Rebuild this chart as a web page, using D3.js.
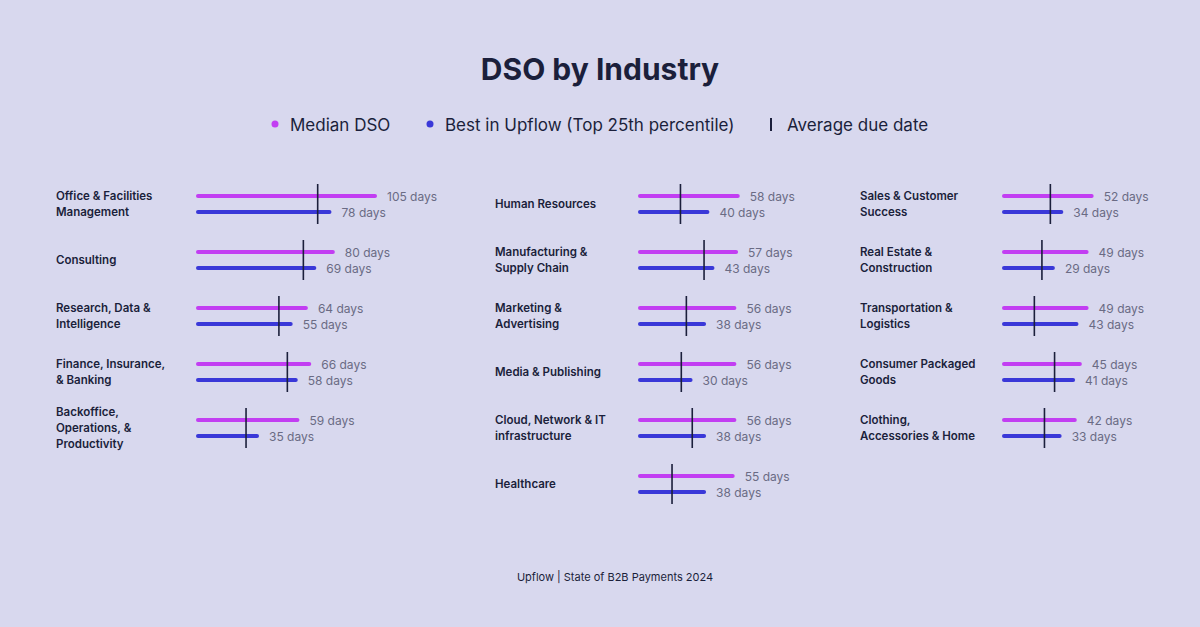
<!DOCTYPE html>
<html><head><meta charset="utf-8">
<script src="https://cdn.jsdelivr.net/npm/d3@7"></script>
<style>body{margin:0;background:#d8d8ee;font-family:Inter,"Noto Sans",sans-serif}</style>
</head><body><svg id="chart" width="1200" height="627"></svg>
<script>
// industries, one list per column
var col1 = ["Office & Facilities|Management","Consulting","Research, Data &|Intelligence","Finance, Insurance,|& Banking","Backoffice,|Operations, &|Productivity"];
var col2 = ["Human Resources","Manufacturing &|Supply Chain","Marketing &|Advertising","Media & Publishing","Cloud, Network & IT|infrastructure","Healthcare"];
var col3 = ["Sales & Customer|Success","Real Estate &|Construction","Transportation &|Logistics","Consumer Packaged|Goods","Clothing,|Accessories & Home"];
var median1 = [105,80,64,66,59], median2 = [58,57,56,56,56,55], median3 = [52,49,49,45,42];
var best1 = [78,69,55,58,35], best2 = [40,43,38,30,38,38], best3 = [34,29,43,41,33];
var due1 = [71,62.5,48,53,28.5], due2 = [24,38,27.5,24.5,31,19], due3 = [27.5,22.5,18,30,24];

var pink = "#c23ef2", blue = "#3a38d8", dark = "#1b1f3b", grey = "#6a6b84";
var svg = d3.select("#chart");
svg.append("rect").attr("width",1200).attr("height",627).attr("fill","#d8d8ee");

svg.append("text").attr("x",600).attr("y",80).attr("text-anchor","middle")
  .attr("font-size",30).attr("font-weight",700).attr("fill",dark).text("DSO by Industry");

// legend
var lg = svg.append("g").attr("font-size",17).attr("fill",dark);
lg.append("circle").attr("cx",275).attr("cy",124).attr("r",3.5).attr("fill",pink);
lg.append("text").attr("x",290).attr("y",131).text("Median DSO");
lg.append("circle").attr("cx",430).attr("cy",124).attr("r",3.5).attr("fill",blue);
lg.append("text").attr("x",445).attr("y",131).text("Best in Upflow (Top 25th percentile)");
lg.append("rect").attr("x",770).attr("y",118).attr("width",2).attr("height",13).attr("fill",dark);
lg.append("text").attr("x",787).attr("y",131).text("Average due date");

var x = d3.scaleLinear().domain([0,105]).range([0,177]);
var y = d3.scaleBand().domain(d3.range(6)).range([180,516]);

function column(labels, med, best, due, lx, bx){
  var g = svg.append("g");
  labels.forEach(function(lab, i){
    var y0 = y(i) + 16, lines = lab.split("|");
    var t = g.append("text").attr("font-size",11.5).attr("font-weight",600).attr("fill",dark);
    var start = y0 + 8 + 4 - (lines.length-1)*8;
    lines.forEach(function(s,k){ t.append("tspan").attr("x",lx).attr("y",start+k*16).text(s); });
    g.append("line").attr("x1",bx).attr("x2",bx+x(med[i])).attr("y1",y0).attr("y2",y0)
      .attr("stroke",pink).attr("stroke-width",4).attr("stroke-linecap","round");
    g.append("line").attr("x1",bx).attr("x2",bx+x(best[i])).attr("y1",y0+16).attr("y2",y0+16)
      .attr("stroke",blue).attr("stroke-width",4).attr("stroke-linecap","round");
    g.append("line").attr("x1",bx+x(due[i])).attr("x2",bx+x(due[i])).attr("y1",y0-12).attr("y2",y0+28)
      .attr("stroke",dark).attr("stroke-width",1.6);
    g.append("text").attr("x",bx+x(med[i])+12).attr("y",y0+4.5).attr("font-size",12).attr("fill",grey).text(med[i]+" days");
    g.append("text").attr("x",bx+x(best[i])+12).attr("y",y0+20.5).attr("font-size",12).attr("fill",grey).text(best[i]+" days");
  });
}
column(col1, median1, best1, due1, 56, 198);
column(col2, median2, best2, due2, 495, 640);
column(col3, median3, best3, due3, 860, 1004);

svg.append("text").attr("x",615).attr("y",581).attr("text-anchor","middle").attr("font-size",11)
  .attr("fill",dark).text("Upflow | State of B2B Payments 2024");
</script></body></html>
